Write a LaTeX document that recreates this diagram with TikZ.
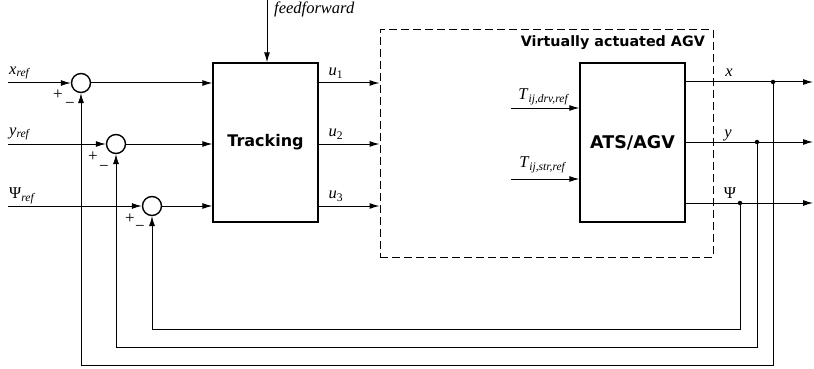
\documentclass[tikz,border=0pt]{standalone}
\usepackage{fontspec}
\setmainfont{Liberation Serif}
\newfontfamily\vsans{DejaVu Sans}
\usetikzlibrary{arrows.meta}
\newcommand{\lsub}[2]{\textit{#1}\textsubscript{\textit{#2}}}
\begin{document}
\begin{tikzpicture}[x=1pt,y=-1pt,
  tip/.style={-{Latex[length=10pt,width=6pt]}},
  sig/.style={line width=1pt,tip},
  ln/.style={line width=1pt},
  fb/.style={line width=0.75pt},
  blk/.style={draw,line width=1.4pt,rectangle,minimum width=105pt,minimum height=159pt,inner sep=0pt},
  sumn/.style={draw,circle,line width=1.4pt,minimum size=19pt,inner sep=0pt},
  lbl/.style={font=\fontsize{16.5}{18}\selectfont,inner sep=0pt},
  sgn/.style={font=\fontsize{17}{17}\selectfont,inner sep=0pt},
  dot/.style={circle,fill,inner sep=0pt,minimum size=4.5pt},
  bsans/.style={font=\vsans\bfseries\fontsize{#1}{#1}\selectfont,inner sep=0pt}
]
\useasboundingbox (0,0) rectangle (814,369);

% blocks
\node[blk,bsans=16] (trk) at (265.5,142.5) {Tracking};
\node[blk,bsans=17.5] (ats) at (632.5,142.5) {ATS/AGV};
\node[draw,dashed,dash pattern=on 8pt off 4pt,line width=1pt,minimum width=333pt,minimum height=227pt,inner sep=0pt] (vb) at (546.5,143.5) {};
\node[bsans=14.3,anchor=east] (vlab) at (705,43) {Virtually actuated AGV};

% summing junctions
\node[sumn] (s1) at (81,83) {};
\node[sumn] (s2) at (116,144) {};
\node[sumn] (s3) at (152,206) {};

% inputs
\coordinate (i1) at (8,83);
\coordinate (i2) at (8,144);
\coordinate (i3) at (8,206);
\draw[sig] (i1) -- (s1.west);
\draw[sig] (i2) -- (s2.west);
\draw[sig] (i3) -- (s3.west);
\node[lbl,anchor=west] (lx) at (9,73) {\lsub{x}{ref}};
\node[lbl,anchor=west] (ly) at (9,134) {\lsub{y}{ref}};
\node[lbl,anchor=west] (lp) at (9,196) {Ψ\textsubscript{\textit{ref}}};

% signs
\node[sgn] (p1) at (58,95) {+};
\node[sgn] (m1) at (70,105) {−};
\node[sgn] (p2) at (93,157) {+};
\node[sgn] (m2) at (104,168) {−};
\node[sgn] (p3) at (130,219) {+};
\node[sgn] (m3) at (140,228) {−};

% errors to tracking
\draw[sig] (s1.east) -- (trk.west |- s1);
\draw[sig] (s2.east) -- (trk.west |- s2);
\draw[sig] (s3.east) -- (trk.west |- s3);

% feedforward
\coordinate (ff) at (267,0);
\draw[sig] (ff) -- (trk.north -| ff);
\node[lbl,anchor=west] (fflab) at (274,9) {\textit{feedforward}};

% u outputs
\draw[sig] (trk.east |- s1) -- (vb.west |- s1);
\draw[sig] (trk.east |- s2) -- (vb.west |- s2);
\draw[sig] (trk.east |- s3) -- (vb.west |- s3);
\node[lbl] (u1) at (336,73) {\lsub{u}{\upshape 1}};
\node[lbl] (u2) at (336,134) {\lsub{u}{\upshape 2}};
\node[lbl] (u3) at (336,196) {\lsub{u}{\upshape 3}};

% torque inputs
\coordinate (t1) at (511,108);
\coordinate (t2) at (511,179);
\draw[sig] (t1) -- (ats.west |- t1);
\draw[sig] (t2) -- (ats.west |- t2);
\node[lbl] (tl1) at (544,97) {\textit{T}\textsubscript{\textit{ij,drv,ref}}};
\node[lbl] (tl2) at (543,165) {\textit{T}\textsubscript{\textit{ij,str,ref}}};

% outputs
\node[dot] (d1) at (773,82) {};
\node[dot] (d2) at (757,142) {};
\node[dot] (d3) at (740,203) {};
\coordinate (e1) at (813,82);
\coordinate (e2) at (813,142);
\coordinate (e3) at (813,203);
\draw[ln] (ats.east |- d1) -- (d1);
\draw[ln] (ats.east |- d2) -- (d2);
\draw[ln] (ats.east |- d3) -- (d3);
\draw[sig] (d1) -- (e1);
\draw[sig] (d2) -- (e2);
\draw[sig] (d3) -- (e3);
\node[lbl] (ox) at (729,73) {\textit{x}};
\node[lbl] (oy) at (728,135) {\textit{y}};
\node[lbl] (op) at (730,193) {Ψ};

% feedback loops
\coordinate (c1) at (773,365);
\coordinate (c2) at (757,347);
\coordinate (c3) at (740,329);
\draw[fb,tip] (d1) -- (c1) -| (s1.south);
\draw[fb,tip] (d2) -- (c2) -| (s2.south);
\draw[fb,tip] (d3) -- (c3) -| (s3.south);
\end{tikzpicture}
\end{document}
